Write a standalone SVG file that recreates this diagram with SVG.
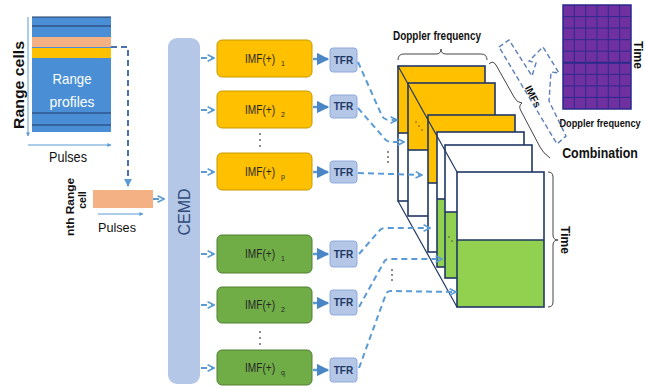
<svg xmlns="http://www.w3.org/2000/svg" width="645" height="389" viewBox="0 0 645 389">
<defs>
<style>
.t{font-family:"Liberation Sans",Arial,sans-serif;}
.b{font-weight:bold;}
.dash{fill:none;stroke:#5b9bd5;stroke-width:2;stroke-dasharray:6,4;}
.sol{fill:none;stroke:#5b9bd5;stroke-width:2.5;}
.imfo{fill:#ffc000;stroke:#c79a00;stroke-width:1;}
.imfg{fill:#70ad47;stroke:#507e32;stroke-width:1;}
.tfr{fill:#b4c7e7;stroke:#8faadc;stroke-width:1;}
.sl{stroke:#203864;stroke-width:1.6;}
.imft{font-family:"Liberation Sans",Arial,sans-serif;font-size:12px;fill:#262626;}
.sub{font-size:7px;}
.tfrt{font-family:"Liberation Sans",Arial,sans-serif;font-size:10px;font-weight:bold;fill:#1f3864;}
.grid{stroke:#2a2a8c;stroke-width:1;}
</style>
<marker id="ah" viewBox="0 0 10 10" refX="9" refY="5" markerWidth="4" markerHeight="4" orient="auto"><path d="M0,0 L10,5 L0,10 z" fill="#5b9bd5"/></marker>
<marker id="ch" viewBox="0 0 10 10" refX="9" refY="5" markerWidth="4" markerHeight="4" orient="auto"><path d="M1,1 L9,5 L1,9" fill="none" stroke="#5b9bd5" stroke-width="2"/></marker>
<marker id="ah2" viewBox="0 0 10 10" refX="9" refY="5" markerWidth="5" markerHeight="5" orient="auto"><path d="M0,0 L10,5 L0,10 z" fill="#4a86c5"/></marker>
</defs>
<rect width="645" height="389" fill="#ffffff"/>

<!-- Range profiles block -->
<g id="range-profiles">
<rect x="32" y="17" width="79" height="115" fill="#4a8fd6"/>
<rect x="32" y="37" width="79" height="10" fill="#f4b183"/>
<rect x="32" y="48" width="79" height="10" fill="#ffc000"/>
<line x1="32" y1="17" x2="111" y2="17" stroke="#1f3864" stroke-width="1.2"/>
<line x1="32" y1="26" x2="111" y2="26" stroke="#1f3864" stroke-width="1.2"/>
<line x1="32" y1="113" x2="111" y2="113" stroke="#1f3864" stroke-width="1.2"/>
<line x1="32" y1="125" x2="111" y2="125" stroke="#1f3864" stroke-width="1.2"/>
<text class="t" x="72" y="84" font-size="15" fill="#ffffff" text-anchor="middle" textLength="39" lengthAdjust="spacingAndGlyphs">Range</text>
<text class="t" x="72" y="107" font-size="15" fill="#ffffff" text-anchor="middle" textLength="45" lengthAdjust="spacingAndGlyphs">profiles</text>
<line x1="28" y1="17" x2="28" y2="136" stroke="#5b9bd5" stroke-width="1" marker-end="url(#ah)"/>
<line x1="28" y1="145" x2="111" y2="145" stroke="#5b9bd5" stroke-width="1" marker-end="url(#ah)"/>
<text class="t b" transform="translate(24,85) rotate(-90)" font-size="14" fill="#111" text-anchor="middle" textLength="88" lengthAdjust="spacingAndGlyphs">Range cells</text>
<text class="t" x="68" y="162" font-size="14" fill="#111" text-anchor="middle" textLength="38" lengthAdjust="spacingAndGlyphs">Pulses</text>
</g>

<!-- nth range cell -->
<g id="nth-cell">
<rect x="93" y="190" width="60" height="18" fill="#f4b183"/>
<line x1="98" y1="214" x2="143" y2="214" stroke="#5b9bd5" stroke-width="1" marker-end="url(#ah)"/>
<text class="t" x="117" y="232" font-size="13" fill="#111" text-anchor="middle" textLength="38" lengthAdjust="spacingAndGlyphs">Pulses</text>
<text class="t b" transform="translate(74,207) rotate(-90)" font-size="10.5" fill="#111" text-anchor="middle" textLength="58" lengthAdjust="spacingAndGlyphs">nth Range</text>
<text class="t b" transform="translate(86,200) rotate(-90)" font-size="10.5" fill="#111" text-anchor="middle">cell</text>
</g>

<!-- CEMD -->
<g id="cemd">
<rect x="168" y="38" width="32" height="346" rx="9" fill="#b4c7e7"/>
<text class="t" transform="translate(190,212) rotate(-90)" font-size="16" fill="#2e4a7a" text-anchor="middle">CEMD</text>
</g>

<!-- IMF boxes -->
<g id="imf-o1"><rect class="imfo" x="217" y="40" width="95" height="37" rx="5"/><text class="imft" x="245" y="63" textLength="30" lengthAdjust="spacingAndGlyphs">IMF(+)</text><text class="imft sub" x="281" y="66">1</text></g>
<g id="imf-o2"><rect class="imfo" x="217" y="91" width="95" height="37" rx="5"/><text class="imft" x="245" y="114" textLength="30" lengthAdjust="spacingAndGlyphs">IMF(+)</text><text class="imft sub" x="281" y="117">2</text></g>
<g id="imf-o3"><rect class="imfo" x="217" y="153" width="95" height="37" rx="5"/><text class="imft" x="245" y="176" textLength="30" lengthAdjust="spacingAndGlyphs">IMF(+)</text><text class="imft sub" x="281" y="179">p</text></g>
<g id="imf-g1"><rect class="imfg" x="217" y="235" width="95" height="38" rx="5"/><text class="imft" x="245" y="258" textLength="30" lengthAdjust="spacingAndGlyphs">IMF(+)</text><text class="imft sub" x="281" y="261">1</text></g>
<g id="imf-g2"><rect class="imfg" x="217" y="287" width="95" height="36" rx="5"/><text class="imft" x="245" y="309" textLength="30" lengthAdjust="spacingAndGlyphs">IMF(+)</text><text class="imft sub" x="281" y="312">2</text></g>
<g id="imf-g3"><rect class="imfg" x="217" y="350" width="95" height="35" rx="5"/><text class="imft" x="245" y="372" textLength="30" lengthAdjust="spacingAndGlyphs">IMF(+)</text><text class="imft sub" x="281" y="375">q</text></g>

<!-- TFR boxes -->
<g id="tfr-o1"><rect class="tfr" x="330" y="48" width="27" height="24" rx="3"/><text class="tfrt" x="343.5" y="64" text-anchor="middle">TFR</text></g>
<g id="tfr-o2"><rect class="tfr" x="330" y="95" width="27" height="23" rx="3"/><text class="tfrt" x="343.5" y="110" text-anchor="middle">TFR</text></g>
<g id="tfr-o3"><rect class="tfr" x="330" y="161" width="27" height="22" rx="3"/><text class="tfrt" x="343.5" y="176" text-anchor="middle">TFR</text></g>
<g id="tfr-g1"><rect class="tfr" x="330" y="241" width="27" height="26" rx="3"/><text class="tfrt" x="343.5" y="258" text-anchor="middle">TFR</text></g>
<g id="tfr-g2"><rect class="tfr" x="330" y="290" width="27" height="25" rx="3"/><text class="tfrt" x="343.5" y="306" text-anchor="middle">TFR</text></g>
<g id="tfr-g3"><rect class="tfr" x="330" y="358" width="27" height="24" rx="3"/><text class="tfrt" x="343.5" y="374" text-anchor="middle">TFR</text></g>

<!-- vertical ellipses -->
<g id="ellipses" fill="#555">
<circle cx="260" cy="134" r="0.9"/><circle cx="260" cy="140" r="0.9"/><circle cx="260" cy="146" r="0.9"/>
<circle cx="260" cy="332" r="0.9"/><circle cx="260" cy="338" r="0.9"/><circle cx="260" cy="344" r="0.9"/>
<circle cx="388" cy="152" r="0.9"/><circle cx="388" cy="157" r="0.9"/><circle cx="388" cy="162" r="0.9"/>
<circle cx="392" cy="270" r="0.9"/><circle cx="392" cy="275" r="0.9"/><circle cx="392" cy="280" r="0.9"/>
</g>

<!-- 3D stack -->
<g id="stack">
<g id="slice1"><rect x="398" y="66" width="87" height="67" fill="#ffc000"/><rect x="398" y="133" width="87" height="68" fill="#ffffff"/><rect x="398" y="66" width="87" height="135" fill="none" class="sl"/><line x1="398" y1="133" x2="408" y2="133" class="sl"/></g>
<g id="slice2"><rect x="408" y="83" width="87" height="67" fill="#ffc000"/><rect x="408" y="150" width="87" height="66" fill="#ffffff"/><rect x="408" y="83" width="87" height="133" fill="none" class="sl"/><line x1="408" y1="150" x2="428" y2="150" class="sl"/></g>
<g id="slice3"><rect x="428" y="115" width="87" height="68" fill="#ffc000"/><rect x="428" y="183" width="87" height="69" fill="#ffffff"/><rect x="428" y="115" width="87" height="137" fill="none" class="sl"/><line x1="428" y1="183" x2="437" y2="183" class="sl"/></g>
<g id="slice4"><rect x="437" y="132" width="87" height="67" fill="#ffffff"/><rect x="437" y="199" width="87" height="68" fill="#92d050"/><rect x="437" y="132" width="87" height="135" fill="none" class="sl"/><line x1="437" y1="199" x2="445" y2="199" class="sl"/></g>
<g id="slice5"><rect x="445" y="145" width="87" height="67" fill="#ffffff"/><rect x="445" y="212" width="87" height="66" fill="#92d050"/><rect x="445" y="145" width="87" height="133" fill="none" class="sl"/><line x1="445" y1="212" x2="457" y2="212" class="sl"/></g>
<g id="slice6"><rect x="457" y="172" width="87" height="68" fill="#ffffff"/><rect x="457" y="240" width="87" height="67" fill="#92d050"/><rect x="457" y="172" width="87" height="135" fill="none" class="sl"/><line x1="457" y1="240" x2="544" y2="240" class="sl"/></g>
<line x1="398" y1="66" x2="457" y2="172" stroke="#203864" stroke-width="1.2"/>
<line x1="398" y1="201" x2="457" y2="307" stroke="#203864" stroke-width="1.2"/>
<g fill="#333"><circle cx="416" cy="122" r="0.7"/><circle cx="419" cy="126" r="0.7"/><circle cx="422" cy="130" r="0.7"/><circle cx="449" cy="237" r="0.7"/><circle cx="452" cy="241" r="0.7"/></g>
</g>

<!-- braces and labels -->
<g id="braces" fill="none" stroke="#444" stroke-width="1">
<path d="M398,60 Q398,54 404,54 L436,54 Q441,54 441,49 Q441,54 446,54 L481,54 Q487,54 487,60"/>
<path d="M548,172 Q553,172 553,177 L553,235 Q553,240 558,240 Q553,240 553,245 L553,302 Q553,307 548,307"/>
<path d="M489,64 Q493,60 496,65 L514,97 Q517,103 522,103 Q518,106 521,111 L540,147 Q543,153 550,158"/>
</g>
<g id="labels">
<text class="t b" x="437" y="40" font-size="13" fill="#111" text-anchor="middle" textLength="88" lengthAdjust="spacingAndGlyphs">Doppler frequency</text>
<text class="t b" transform="translate(530,98) rotate(63)" font-size="10" fill="#111" text-anchor="middle">IMFs</text>
<text class="t b" transform="translate(561,240) rotate(90)" font-size="12" fill="#111" text-anchor="middle">Time</text>
</g>

<!-- dashed combination arrow -->
<g id="combine-arrow">
<path d="M499,47 L509,40 L532,76 L536,63 L529,61 L543,47 L559,73 L551,72 L549,101 L566,136 L557,144 Z" fill="none" stroke="#5b7fb5" stroke-width="1.4" stroke-dasharray="5,3"/>
</g>

<!-- purple combination grid -->
<g id="combination">
<rect x="563" y="5" width="68" height="104" fill="#7030a0"/>
<g class="grid">
<line x1="574.3" y1="5" x2="574.3" y2="109"/><line x1="585.7" y1="5" x2="585.7" y2="109"/><line x1="597" y1="5" x2="597" y2="109"/><line x1="608.3" y1="5" x2="608.3" y2="109"/><line x1="619.7" y1="5" x2="619.7" y2="109"/>
<line x1="563" y1="16.6" x2="631" y2="16.6"/><line x1="563" y1="28.1" x2="631" y2="28.1"/><line x1="563" y1="39.7" x2="631" y2="39.7"/><line x1="563" y1="51.2" x2="631" y2="51.2"/><line x1="563" y1="62.8" x2="631" y2="62.8" stroke-width="2"/><line x1="563" y1="74.3" x2="631" y2="74.3"/><line x1="563" y1="85.9" x2="631" y2="85.9"/><line x1="563" y1="97.4" x2="631" y2="97.4"/>
</g>
<rect x="563" y="5" width="68" height="104" fill="none" stroke="#2a2a8c" stroke-width="1.5"/>
<text class="t b" transform="translate(634,55) rotate(90)" font-size="12" fill="#111" text-anchor="middle">Time</text>
<text class="t b" transform="translate(600,127) scale(0.8,1)" font-size="11.5" fill="#111" text-anchor="middle">Doppler frequency</text>
<text class="t b" transform="translate(600,158) scale(0.8,1)" font-size="15.5" fill="#111" text-anchor="middle">Combination</text>
</g>

<!-- connectors -->
<g id="connectors">
<path class="dash" d="M111,47 L128,47 L128,186" marker-end="url(#ah)" stroke-dasharray="5,4" stroke-width="1.2" style="stroke:#4a70b0"/>
<path class="dash" d="M153,199 L164,199" marker-end="url(#ch)"/>
<path class="dash" d="M201,58 L214,58" marker-end="url(#ch)"/>
<path class="dash" d="M201,110 L214,110" marker-end="url(#ch)"/>
<path class="dash" d="M201,172 L214,172" marker-end="url(#ch)"/>
<path class="dash" d="M201,254 L214,254" marker-end="url(#ch)"/>
<path class="dash" d="M201,305 L214,305" marker-end="url(#ch)"/>
<path class="dash" d="M201,368 L214,368" marker-end="url(#ch)"/>
<path class="sol" d="M313,59 L328,59" marker-end="url(#ah2)"/>
<path class="sol" d="M313,107 L328,107" marker-end="url(#ah2)"/>
<path class="sol" d="M313,172 L328,172" marker-end="url(#ah2)"/>
<path class="sol" d="M313,254 L328,254" marker-end="url(#ah2)"/>
<path class="sol" d="M313,303 L328,303" marker-end="url(#ah2)"/>
<path class="sol" d="M313,370 L328,370" marker-end="url(#ah2)"/>
<path class="dash" d="M358,62 L382,116 Q384,120 390,120 L397,120" marker-end="url(#ch)"/>
<path class="dash" d="M358,108 L384,138 Q387,142 392,142 L404,142" marker-end="url(#ch)"/>
<path class="dash" d="M358,173 L422,175" marker-end="url(#ch)"/>
<path class="dash" d="M359,254 L380,230 Q382,228 386,228 L430,228" marker-end="url(#ch)"/>
<path class="dash" d="M359,307 L384,262 Q385,259 389,259 L442,259" marker-end="url(#ch)"/>
<path class="dash" d="M359,368 L386,294 Q387,291 391,291 L456,292" marker-end="url(#ch)"/>
</g>
</svg>
